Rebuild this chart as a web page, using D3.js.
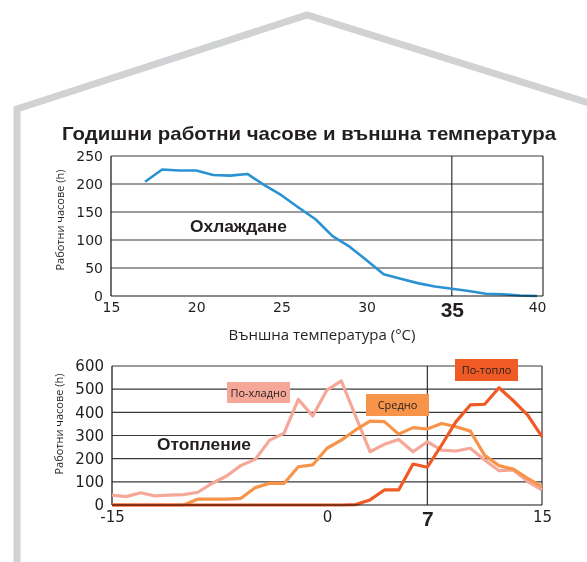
<!DOCTYPE html>
<html>
<head>
<meta charset="utf-8">
<script src="https://cdn.jsdelivr.net/npm/d3@7"></script>
<style>
  body { margin: 0; background: #fff; }
  svg { display: block; }
</style>
</head>
<body>
<svg id="chart" width="587" height="562"></svg>
<script>
// ---- Cooling: annual operating hours per outdoor temperature (°C) ----
const coolTemps = [17, 18, 19, 20, 21, 22, 23, 24, 25, 26, 27, 28, 29, 30, 31, 32, 33, 34, 35, 36, 37, 38, 39, 40];
const coolHours = [204, 226, 224, 224, 216, 215, 218, 198, 180, 158, 137, 107, 88, 64, 39, 31, 23, 17, 13, 9, 4, 3, 1, 0];
const coolTicksX = [15, 20, 25, 30, 35, 40];
const coolTicksY = [0, 50, 100, 150, 200, 250];
const coolDesignTemp = 35;

// ---- Heating: annual operating hours per outdoor temperature (°C), three climates ----
const heatTemps = [-15, -14, -13, -12, -11, -10, -9, -8, -7, -6, -5, -4, -3, -2, -1, 0, 1, 2, 3, 4, 5, 6, 7, 8, 9, 10, 11, 12, 13, 14, 15];
const heatColder  = [43, 36, 53, 39, 43, 45, 55, 94, 125, 171, 197, 280, 309, 456, 384, 496, 536, 383, 230, 262, 283, 230, 273, 237, 233, 245, 194, 148, 151, 101, 65];
const heatAverage = [0, 0, 0, 0, 0, 0, 26, 25, 25, 29, 75, 94, 93, 165, 173, 245, 280, 324, 362, 360, 306, 334, 328, 352, 338, 319, 214, 170, 155, 115, 79];
const heatWarmer  = [0, 0, 0, 0, 0, 0, 0, 0, 0, 0, 0, 0, 0, 0, 0, 0, 0, 2, 22, 65, 65, 177, 163, 259, 360, 432, 435, 506, 450, 388, 295];
const heatTicksX = [-15, 0, 7, 15];
const heatTicksY = [0, 100, 200, 300, 400, 500, 600];
const heatDesignTemp = 7;
const climateNames = ["По-хладно", "Средно", "По-топло"];

const svg = d3.select("#chart");
const numFont = "'DejaVu Sans', sans-serif";
const textFont = "'Open Sans', sans-serif";
const boldFont = "'Liberation Sans', Arial, sans-serif";

// house outline framing the charts
svg.append("path")
  .attr("d", d3.line()([[17, 570], [17, 109], [307, 15], [592, 104]]))
  .attr("fill", "none")
  .attr("stroke", "#d1d2d4")
  .attr("stroke-width", 7)
  .attr("stroke-linejoin", "miter");

svg.append("text")
  .attr("x", 62).attr("y", 140)
  .attr("font-family", boldFont).attr("font-weight", "bold").attr("font-size", 18.5)
  .attr("textLength", 494).attr("lengthAdjust", "spacingAndGlyphs")
  .attr("fill", "#231f20")
  .text("Годишни работни часове и външна температура");

// framed grid panel with tick labels; returns the zero-line drawer
function panel(x, y, ticksX, ticksY, designTemp, fsY, fsX, padX) {
  const [x0, x1] = x.range();
  const [y0, y1] = y.range();
  const g = svg.append("g");

  // horizontal grid lines
  g.selectAll("line.grid").data(ticksY.filter(d => d !== 0)).join("line")
    .attr("class", "grid")
    .attr("x1", x0).attr("x2", x1)
    .attr("y1", d => y(d)).attr("y2", d => y(d))
    .attr("stroke", "#3a3a3a").attr("stroke-width", 1.1);

  // right frame edge and left axis
  g.append("line").attr("x1", x1).attr("x2", x1).attr("y1", y1).attr("y2", y0)
    .attr("stroke", "#231f20").attr("stroke-width", 1.1);
  g.append("line").attr("x1", x0).attr("x2", x0).attr("y1", y1).attr("y2", y0)
    .attr("stroke", "#231f20").attr("stroke-width", 1.3);

  // design temperature marker
  g.append("line").attr("x1", x(designTemp)).attr("x2", x(designTemp)).attr("y1", y1).attr("y2", y0)
    .attr("stroke", "#231f20").attr("stroke-width", 1.1);

  // y tick labels
  const ay = g.append("g").attr("transform", `translate(${x0},0)`)
    .call(d3.axisLeft(y).tickValues(ticksY).tickSize(0).tickPadding(8));
  ay.select(".domain").remove();
  ay.selectAll("text").attr("font-family", numFont).attr("font-size", fsY).attr("fill", "#231f20");

  // x tick labels, the design temperature in bold
  const ax = g.append("g").attr("transform", `translate(0,${y0})`)
    .call(d3.axisBottom(x).tickValues(ticksX).tickSize(0).tickPadding(padX).tickFormat(d => d < 0 ? "-" + Math.abs(d) : d));
  ax.select(".domain").remove();
  ax.selectAll("text").attr("font-family", numFont).attr("font-size", fsX).attr("fill", "#231f20");
  ax.selectAll(".tick").filter(d => d === designTemp).select("text")
    .attr("font-family", boldFont).attr("font-weight", "bold").attr("font-size", 21);

  // zero line, laid over the curves so they darken where they run along it
  return () => svg.append("line").attr("x1", x0).attr("x2", x1).attr("y1", y(0)).attr("y2", y(0))
    .attr("stroke", "#8a8a8a").attr("stroke-width", 2)
    .style("mix-blend-mode", "multiply");
}

// ---------- cooling panel ----------
const xCool = d3.scaleLinear().domain([15, 40.35]).range([111, 543]);
const yCool = d3.scaleLinear().domain([0, 250]).range([296, 156]);
const coolZero = panel(xCool, yCool, coolTicksX, coolTicksY, coolDesignTemp, 14, 14, 6);

svg.append("path")
  .datum(coolTemps.map((t, i) => [t, coolHours[i]]))
  .attr("d", d3.line().x(d => xCool(d[0])).y(d => yCool(d[1])))
  .attr("fill", "none").attr("stroke", "#2a92d3").attr("stroke-width", 2.6)
  .attr("stroke-linejoin", "round");
coolZero();

svg.append("text").attr("x", 190).attr("y", 232)
  .attr("font-family", boldFont).attr("font-weight", "bold").attr("font-size", 16.5)
  .attr("textLength", 97).attr("lengthAdjust", "spacingAndGlyphs")
  .attr("fill", "#231f20").text("Охлаждане");

svg.append("text")
  .attr("transform", "translate(64,220) rotate(-90)")
  .attr("text-anchor", "middle")
  .attr("font-family", textFont).attr("font-size", 11).attr("fill", "#231f20")
  .text("Работни часове (h)");

svg.append("text").attr("x", 322).attr("y", 340).attr("text-anchor", "middle")
  .attr("font-family", textFont).attr("font-size", 15).attr("fill", "#231f20")
  .text("Външна температура (°C)");

// ---------- heating panel ----------
const xHeat = d3.scaleLinear().domain([-15, 15]).range([112, 542]);
const yHeat = d3.scaleLinear().domain([0, 600]).range([505, 366]);
const heatZero = panel(xHeat, yHeat, heatTicksX, heatTicksY, heatDesignTemp, 15, 15, 6);

const climateColors = d3.scaleOrdinal().domain(climateNames).range(["#f6a898", "#f7944a", "#f05a24"]);
const heatSeries = [heatColder, heatAverage, heatWarmer];
const heatLine = d3.line().x(d => xHeat(d[0])).y(d => yHeat(d[1]));

svg.append("g").selectAll("path")
  .data(heatSeries.map((vals, k) => ({ name: climateNames[k], pts: heatTemps.map((t, i) => [t, vals[i]]) })))
  .join("path")
  .attr("d", d => heatLine(d.pts))
  .attr("fill", "none")
  .attr("stroke", d => climateColors(d.name))
  .attr("stroke-width", 3.2)
  .attr("stroke-linejoin", "round");
heatZero();

// labelled swatches naming each climate
const legendBoxes = [
  { name: "По-хладно", x: 227, y: 382, w: 63, h: 21 },
  { name: "Средно", x: 366, y: 394, w: 63, h: 22 },
  { name: "По-топло", x: 455, y: 359, w: 63, h: 22 }
];
const lg = svg.append("g").selectAll("g").data(legendBoxes).join("g");
lg.append("rect")
  .attr("x", d => d.x).attr("y", d => d.y).attr("width", d => d.w).attr("height", d => d.h)
  .attr("fill", d => climateColors(d.name));
lg.append("text")
  .attr("x", d => d.x + d.w / 2).attr("y", d => d.y + d.h / 2 + 4)
  .attr("text-anchor", "middle")
  .attr("font-family", textFont).attr("font-size", 11).attr("fill", "#231f20")
  .text(d => d.name);

svg.append("text").attr("x", 157).attr("y", 450)
  .attr("font-family", boldFont).attr("font-weight", "bold").attr("font-size", 16)
  .attr("textLength", 94).attr("lengthAdjust", "spacingAndGlyphs")
  .attr("fill", "#231f20").text("Отопление");

svg.append("text")
  .attr("transform", "translate(63,424) rotate(-90)")
  .attr("text-anchor", "middle")
  .attr("font-family", textFont).attr("font-size", 11).attr("fill", "#231f20")
  .text("Работни часове (h)");
</script>
</body>
</html>
